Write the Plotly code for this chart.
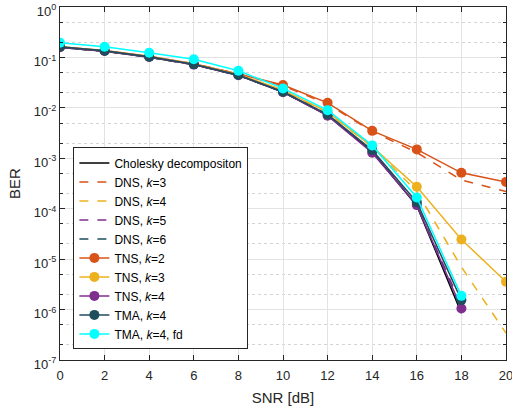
import plotly.graph_objects as go

snr_full = [0, 2, 4, 6, 8, 10, 12, 14, 16, 18, 20]
snr_short = [0, 2, 4, 6, 8, 10, 12, 14, 16, 18]

chol = [0.158, 0.133, 0.101, 0.072, 0.044, 0.0205, 0.0071, 0.00135, 1.15e-4, 8.5e-7]
dns_k3 = [0.160, 0.135, 0.104, 0.075, 0.047, 0.0275, 0.0118, 0.0034, 1.3e-3, 3.7e-4, 2.2e-4]
dns_k4 = [0.158, 0.134, 0.102, 0.073, 0.045, 0.0220, 0.0080, 0.0017, 2.2e-4, 7.0e-6, 3.4e-7]
dns_k5 = [0.158, 0.133, 0.101, 0.072, 0.044, 0.0207, 0.0072, 0.00138, 1.2e-4, 1.2e-6]
dns_k6 = [0.158, 0.133, 0.101, 0.072, 0.044, 0.0206, 0.0071, 0.00136, 1.17e-4, 1.0e-6]
tns_k2 = [0.163, 0.137, 0.105, 0.075, 0.047, 0.0283, 0.0126, 0.0035, 1.5e-3, 5.15e-4, 3.4e-4]
tns_k3 = [0.162, 0.136, 0.104, 0.074, 0.046, 0.0225, 0.0083, 0.0017, 2.72e-4, 2.46e-5, 3.55e-6]
tns_k4 = [0.160, 0.134, 0.102, 0.072, 0.0445, 0.0205, 0.0070, 0.00129, 1.18e-4, 1.05e-6]
tma_k4 = [0.163, 0.136, 0.103, 0.073, 0.0448, 0.0209, 0.0074, 0.00146, 1.35e-4, 1.54e-6]
tma_fd = [0.196, 0.163, 0.124, 0.092, 0.0545, 0.0243, 0.0090, 0.0018, 1.67e-4, 1.87e-6]

y_tickvals = [1, 1e-1, 1e-2, 1e-3, 1e-4, 1e-5, 1e-6, 1e-7]
y_ticktext = ["10<sup>0</sup>", "10<sup>-1</sup>", "10<sup>-2</sup>", "10<sup>-3</sup>",
              "10<sup>-4</sup>", "10<sup>-5</sup>", "10<sup>-6</sup>", "10<sup>-7</sup>"]
x_tickvals = [0, 2, 4, 6, 8, 10, 12, 14, 16, 18, 20]

ORANGE = "#D95319"
YELLOW = "#EDB120"
PURPLE = "#7E2F8E"
TEAL = "#1E4D5C"
CYAN = "#00FFFF"
FONT = "Liberation Sans, Arial, sans-serif"

fig = go.Figure()

def line(x, y, name, color, dash="solid", marker=False):
    fig.add_trace(go.Scatter(
        x=x, y=y, name=name,
        mode="lines+markers" if marker else "lines",
        line=dict(color=color, width=1.5, dash=dash),
        marker=dict(size=10, color=color) if marker else None,
    ))

line(snr_short, chol, "Cholesky decompositon", "black")
line(snr_full, dns_k3, "DNS, <i>k</i>=3", ORANGE, dash="dash")
line(snr_full, dns_k4, "DNS, <i>k</i>=4", YELLOW, dash="dash")
line(snr_short, dns_k5, "DNS, <i>k</i>=5", PURPLE, dash="dash")
line(snr_short, dns_k6, "DNS, <i>k</i>=6", TEAL, dash="dash")
line(snr_full, tns_k2, "TNS, <i>k</i>=2", ORANGE, marker=True)
line(snr_full, tns_k3, "TNS, <i>k</i>=3", YELLOW, marker=True)
line(snr_short, tns_k4, "TNS, <i>k</i>=4", PURPLE, marker=True)
line(snr_short, tma_k4, "TMA, <i>k</i>=4", TEAL, marker=True)
line(snr_short, tma_fd, "TMA, <i>k</i>=4, fd", CYAN, marker=True)

axis_common = dict(
    showline=True, linecolor="#262626", linewidth=1, mirror="allticks",
    ticks="inside", ticklen=5, tickcolor="#262626",
    showgrid=True, gridcolor="#e3e3e3", gridwidth=1,
    zeroline=False, ticklabeloverflow="allow", automargin=False,
    tickfont=dict(family=FONT, size=13, color="#262626"),
)

fig.update_xaxes(
    range=[0, 20], tickvals=x_tickvals, ticklabelstandoff=3,
    title=dict(text="SNR [dB]", font=dict(family=FONT, size=15, color="#262626"), standoff=10),
    **axis_common,
)
fig.update_yaxes(
    type="log", range=[-7, 0], tickvals=y_tickvals, ticktext=y_ticktext,
    ticklabelshift=4,
    title=dict(text="BER", font=dict(family=FONT, size=15, color="#262626"), standoff=9),
    minor=dict(ticks="inside", ticklen=3, tickcolor="#262626", showgrid=True,
               gridcolor="#d4d4d4", griddash="dot", gridwidth=1),
    **axis_common,
)

fig.update_layout(
    width=512, height=409,
    margin=dict(l=60, r=6, t=7, b=49),
    paper_bgcolor="white", plot_bgcolor="white",
    font=dict(family=FONT, size=12, color="black"),
    legend=dict(
        x=0.03, y=0.03, xanchor="left", yanchor="bottom",
        bgcolor="white", bordercolor="#262626", borderwidth=1,
        font=dict(size=12), tracegroupgap=0, itemwidth=30,
    ),
)

fig.write_html("out.html")
